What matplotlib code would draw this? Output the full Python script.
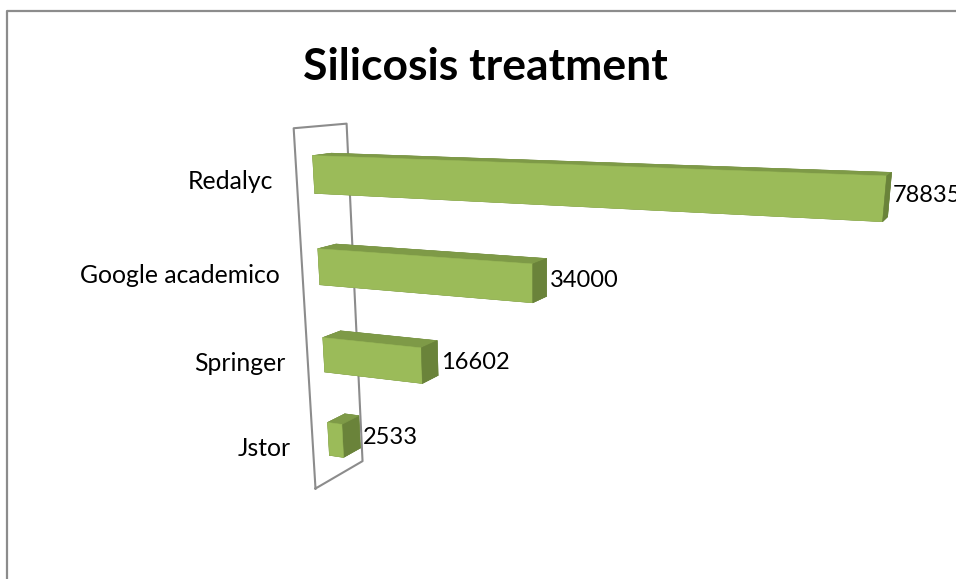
import numpy as np
import matplotlib
matplotlib.use('Agg')
import matplotlib.pyplot as plt
from matplotlib.transforms import offset_copy
from mpl_toolkits.mplot3d import proj3d

plt.rcParams['font.family'] = 'Lato'
plt.rcParams['axes3d.automargin'] = False

# Data
sources = ['Jstor', 'Springer', 'Google academico', 'Redalyc']
counts = [2533, 16602, 34000, 78835]
title = 'Silicosis treatment'

# Colours
front_col = '#9bbb59'
top_col = '#7e9a47'
end_col = '#6a833a'
wall_col = '#8c8c8c'

# Camera
W, H = 956, 579
ELEV, AZIM = 17.3, -67.0
FOCAL_PX = 1150                        # focal length in pixels
CENTER_PX = (535, 421)                 # principal point, from top left
UNIT = 13243                           # counts per category slot
EYE = np.array([7.13, -10.37, 4.65])   # eye in (count / UNIT, depth, height)
WALL_DEPTH = 1.03
BAR_FRONT, BAR_DEPTH, BAR_HEIGHT = 0.32, 0.37, 0.4

fig = plt.figure(figsize=(W / 100, H / 100), dpi=100)
side = 1200
ax = fig.add_axes([0, 0, side / W, side / H], projection='3d')
ax.set_axis_off()
ax.set_facecolor('none')
ax.computed_zorder = False
ax.view_init(elev=ELEV, azim=AZIM)
box = np.array([8.0, 2.0, 5.0])
ax.set_box_aspect(box)
fig.canvas.draw()

# move the axes so the view centre sits on the principal point
p0 = ax.transData.transform((0, 0))
scale = ax.transData.transform((1, 0))[0] - p0[0]
dx = CENTER_PX[0] - p0[0]
dy = (H - CENTER_PX[1]) - p0[1]
ax.set_position([dx / W, dy / H, side / W, side / H])
focal = FOCAL_PX / scale
ax.set_proj_type('persp', focal_length=focal)

# place the box centre on the line of sight
el, az = np.radians(ELEV), np.radians(AZIM)
to_eye = np.array([np.cos(el) * np.cos(az), np.cos(el) * np.sin(az), np.sin(el)])
k = ax._box_aspect[1] / box[1]
centre = EYE - (ax._dist * focal / k) * to_eye
ax.set_xlim((centre[0] - box[0] / 2) * UNIT, (centre[0] + box[0] / 2) * UNIT)
ax.set_ylim(centre[1] - box[1] / 2, centre[1] + box[1] / 2)
ax.set_zlim(centre[2] - box[2] / 2, centre[2] + box[2] / 2)

n = len(sources)
pos = np.arange(n) + 0.5

# wall at zero
ax.plot([0, 0, 0, 0, 0], [0, WALL_DEPTH, WALL_DEPTH, 0, 0], [0, 0, n, n, 0],
        color=wall_col, lw=1.5, zorder=1)

# bars: faces are bottom, top, front, back, left, right
face_cols = [end_col, top_col, front_col, end_col, end_col, end_col] * n
ax.bar3d(np.zeros(n), np.full(n, BAR_FRONT), pos - BAR_HEIGHT / 2,
         counts, BAR_DEPTH, BAR_HEIGHT, color=face_cols, shade=False,
         edgecolor=face_cols, linewidth=0.4, zorder=2)

# value labels: just past the end face, level with the front face middle
M = ax.get_proj()
label_tr = offset_copy(ax.transData, fig=fig, x=3, y=3, units='dots')
for p, c in zip(pos, counts):
    bx, _, _ = proj3d.proj_transform(c, BAR_FRONT + BAR_DEPTH, p, M)
    _, fy, _ = proj3d.proj_transform(c, BAR_FRONT, p, M)
    ax.text2D(bx, fy, str(c), ha='left', va='center', fontsize=17,
              color='black', transform=label_tr, zorder=3)

for p, s in zip(pos, sources):
    ax.text(-0.3 * UNIT, 0, p - 0.06, s, ha='right', va='center',
            fontsize=17.8, color='black', zorder=3)

fig.text(485 / W, 1 - 67 / H, title, ha='center', va='center',
         fontsize=32, fontweight='bold')

# chart border
fig.add_artist(plt.Line2D([6.5 / W, 6.5 / W, 1], [0, 1 - 10.5 / H, 1 - 10.5 / H],
                          color=wall_col, lw=1.6))

fig.savefig('out.png', dpi=100)
